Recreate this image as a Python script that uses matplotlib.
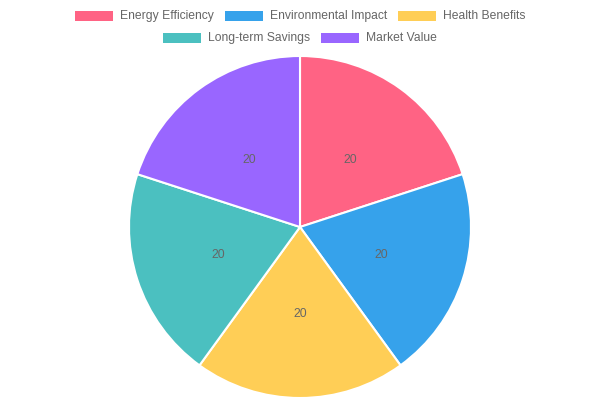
import matplotlib.pyplot as plt
import matplotlib.transforms as mtransforms
from matplotlib.patches import Rectangle

categories = ["Energy Efficiency", "Environmental Impact", "Health Benefits",
              "Long-term Savings", "Market Value"]
values = [20, 20, 20, 20, 20]
colors = ["#FF6384", "#36A2EB", "#FFCE56", "#4BC0C0", "#9966FF"]

plt.rcParams['font.family'] = ['Liberation Sans', 'DejaVu Sans']

fig = plt.figure(figsize=(6, 4), dpi=100)
ax = fig.add_axes([129 / 600, 2 / 400, 342 / 600, 342 / 400])

total = sum(values)
wedges, texts, autotexts = ax.pie(
    values, colors=colors, startangle=90, counterclock=False, radius=1,
    autopct=lambda p: f"{p * total / 100:.0f}", pctdistance=0.5,
    wedgeprops=dict(edgecolor="white", linewidth=1.5),
    textprops=dict(color="#666666", fontsize=8.7))
# nudge value labels down a touch
shift = mtransforms.ScaledTranslation(0, -2 / 100, fig.dpi_scale_trans)
for t in autotexts:
    t.set_transform(t.get_transform() + shift)
ax.set_xlim(-1, 1)
ax.set_ylim(-1, 1)
ax.set_aspect("equal")
ax.axis("off")

# legend drawn by hand, Chart.js style: two centred rows
rows = [[0, 1, 2], [3, 4]]
row_y = [16, 38]
box_w, box_h, gap_txt, gap_item = 38, 10, 7, 11
fig.canvas.draw()
renderer = fig.canvas.get_renderer()
for row, yc in zip(rows, row_y):
    widths = []
    for i in row:
        t = fig.text(0, 0, categories[i], fontsize=8.7)
        widths.append(t.get_window_extent(renderer).width)
        t.remove()
    total_w = sum(box_w + gap_txt + w for w in widths) + gap_item * (len(row) - 1)
    x = 300 - total_w / 2
    for i, w in zip(row, widths):
        fig.patches.append(Rectangle((x / 600, (400 - yc - box_h / 2) / 400),
                                     box_w / 600, box_h / 400,
                                     transform=fig.transFigure,
                                     facecolor=colors[i], edgecolor="none"))
        fig.text((x + box_w + gap_txt) / 600, (400 - yc) / 400, categories[i],
                 fontsize=8.7, color="#666666", va="center", ha="left")
        x += box_w + gap_txt + w + gap_item

fig.savefig("out.png", dpi=100)
